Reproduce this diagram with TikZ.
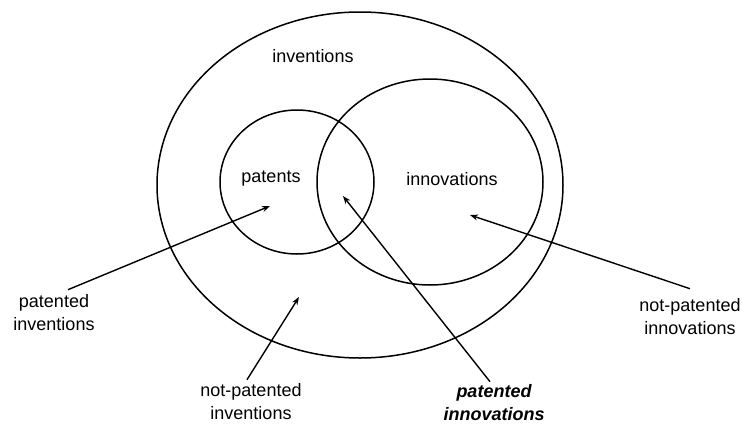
\documentclass[tikz,border=0pt]{standalone}
\usepackage{fontspec}
\setmainfont{Liberation Sans}
\usetikzlibrary{arrows.meta}

\begin{document}
\begin{tikzpicture}[x=1pt,y=-1pt,
    set/.style={line width=1.5pt},
    lbl/.style={inner sep=0pt,align=center,font=\fontsize{18}{23}\selectfont},
    arr/.style={line width=1.4pt,-{Stealth[length=8pt,width=6pt]}}]
        \useasboundingbox (0,0) rectangle (742,426);
        % sets
        \draw[set] (360,185) ellipse [x radius=203pt, y radius=173pt];
        \draw[set] (297,182) ellipse [x radius=77pt, y radius=72pt];
        \draw[set] (430,182) ellipse [x radius=113pt, y radius=103pt];
        % set names
        \node[lbl,anchor=base] (inv) at (313,62) {inventions};
        \node[lbl,anchor=base] (pat) at (271,182) {patents};
        \node[lbl,anchor=base] (inn) at (452,185) {innovations};
        % region labels
        \node[lbl] (pi) at (54,313) {patented\\inventions};
        \node[lbl] (ni) at (251,402) {not-patented\\inventions};
        \node[lbl,font=\fontsize{18}{23}\selectfont\bfseries\itshape] (pn) at (494,403) {patented\\innovations};
        \node[lbl] (nn) at (690,317) {not-patented\\innovations};
        % arrow heads
        \coordinate (pi-h) at (270,206);
        \coordinate (ni-h) at (299,297);
        \coordinate (pn-h) at (343,196);
        \coordinate (nn-h) at (470,215);
        % arrows
        \draw[arr] ([xshift=14pt,yshift=5pt]pi.north) -- (pi-h);
        \draw[arr] ([xshift=-4pt,yshift=4pt]ni.north) -- (ni-h);
        \draw[arr] ([xshift=-4pt,yshift=3pt]pn.north) -- (pn-h);
        \draw[arr] ([yshift=10pt]nn.north) -- (nn-h);
      \end{tikzpicture}
\end{document}
